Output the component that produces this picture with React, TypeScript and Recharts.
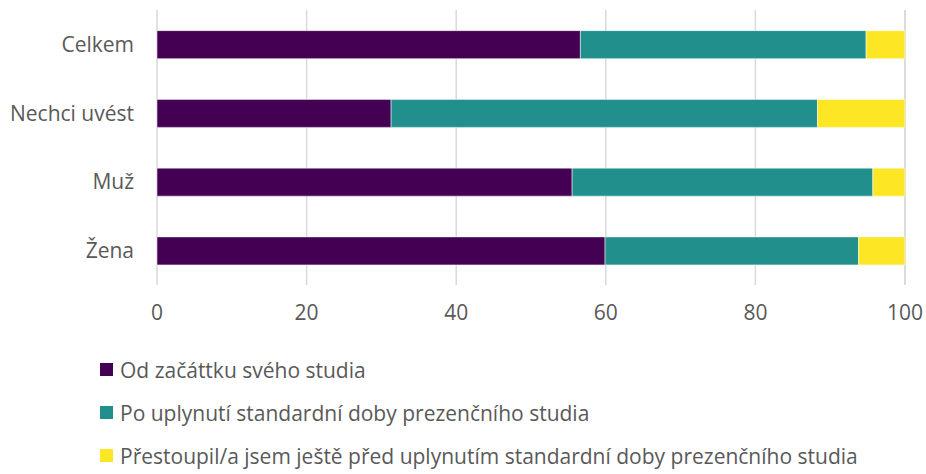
import { BarChart, Bar, XAxis, YAxis, CartesianGrid } from 'recharts';

const categories = ['Celkem', 'Nechci uvést', 'Muž', 'Žena'];
const fromStart = [56.6, 31.3, 55.5, 59.9];
const afterStandard = [38.2, 57.0, 40.2, 33.9];
const transferred = [5.2, 11.7, 4.3, 6.2];
const xTicks = [0, 20, 40, 60, 80, 100];

const seriesNames = [
  'Od začáttku svého studia',
  'Po uplynutí standardní doby prezenčního studia',
  'Přestoupil/a jsem ještě před uplynutím standardní doby prezenčního studia',
];
const colors = ['#440154', '#21908d', '#fde725'];

const data = categories.map((name, i) => ({
  name,
  a: fromStart[i],
  b: afterStandard[i],
  c: transferred[i],
}));

const font = '"Open Sans", sans-serif';
const textColor = '#595959';

export default function App() {
  return (
    <div style={{ position: 'absolute', left: 0, top: 0, width: 926, height: 474, background: '#fff', fontFamily: font }}>
      <BarChart
        width={926}
        height={330}
        data={data}
        layout="vertical"
        barCategoryGap="30%"
        margin={{ top: 10, right: 21, left: 0, bottom: 0 }}
      >
        <CartesianGrid horizontal={false} stroke="#d9d9d9" strokeWidth={1.5} />
        <XAxis
          type="number"
          domain={[0, 100]}
          ticks={xTicks}
          height={45}
          axisLine={false}
          tickLine={false}
          tickSize={0}
          tickMargin={20}
          tick={{ fill: textColor, fontSize: 21, fontFamily: font }}
        />
        <YAxis
          type="category"
          dataKey="name"
          width={157}
          axisLine={false}
          tickLine={false}
          tickSize={0}
          tickMargin={23}
          tick={{ fill: textColor, fontSize: 21, fontFamily: font }}
        />
        <Bar dataKey="a" name={seriesNames[0]} stackId="s" fill={colors[0]} stroke="#fff" strokeWidth={0.5} isAnimationActive={false} />
        <Bar dataKey="b" name={seriesNames[1]} stackId="s" fill={colors[1]} stroke="#fff" strokeWidth={0.5} isAnimationActive={false} />
        <Bar dataKey="c" name={seriesNames[2]} stackId="s" fill={colors[2]} stroke="#fff" strokeWidth={0.5} isAnimationActive={false} />
      </BarChart>
      <div style={{ position: 'absolute', left: 100, top: 348 }}>
        {seriesNames.map((n, i) => (
          <div key={n} style={{ display: 'flex', alignItems: 'center', height: 43, color: textColor, fontSize: 21, whiteSpace: 'nowrap' }}>
            <span style={{ width: 13, height: 13, background: colors[i], marginRight: 7, display: 'inline-block', flexShrink: 0 }} />
            <span>{n}</span>
          </div>
        ))}
      </div>
    </div>
  );
}
